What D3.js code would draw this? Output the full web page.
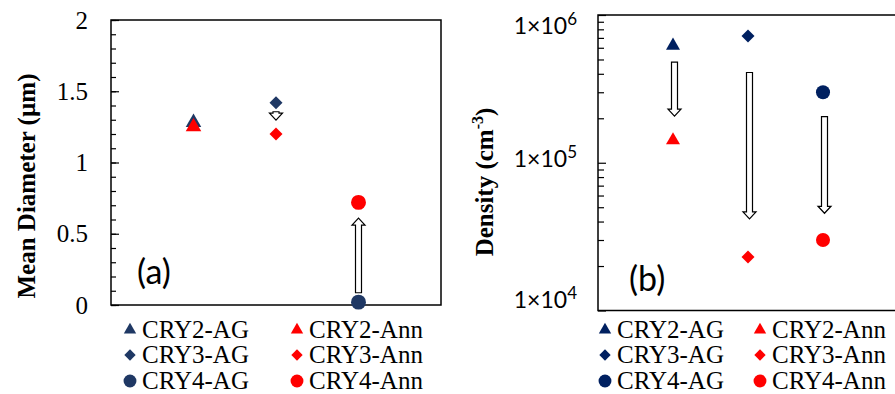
<!DOCTYPE html>
<html>
<head>
<meta charset="utf-8">
<script src="https://cdn.jsdelivr.net/npm/d3@7"></script>
<style>
  html, body { margin: 0; padding: 0; background: #fff; }
  svg { display: block; }
</style>
</head>
<body>
<svg id="chart" width="895" height="394"></svg>
<script>
// Samples and their as-grown (AG) / annealed (Ann) measurements
const categories = ["CRY2", "CRY3", "CRY4"];
const shapes = ["triangle", "diamond", "circle"];
const diameterAG = [1.28, 1.42, 0.02];
const diameterAnn = [1.25, 1.20, 0.72];
const densityAG = [6.2e5, 7.2e5, 3.0e5];
const densityAnn = [1.42e5, 2.3e4, 3.0e4];

// Axis ticks
const diameterTicks = [0, 0.5, 1, 1.5, 2];
const diameterMinor = d3.range(0, 2.0001, 0.1).map(v => +v.toFixed(1));
const densityTicks = [1e4, 1e5, 1e6];
const densityMinor = [2e4, 3e4, 4e4, 5e4, 6e4, 7e4, 8e4, 9e4, 2e5, 3e5, 4e5, 5e5, 6e5, 7e5, 8e5, 9e5];

// Change arrows (from -> to, in data units)
const diameterArrows = [
  { cat: "CRY3", from: 1.356, to: 1.298 },
  { cat: "CRY4", from: 0.086, to: 0.61 }
];
const densityArrows = [
  { cat: "CRY2", from: 4.8e5, to: 2.07e5 },
  { cat: "CRY3", from: 4.08e5, to: 4.17e4 },
  { cat: "CRY4", from: 2.05e5, to: 4.55e4 }
];

const RED = "#ff0000";
const serif = "'Liberation Serif', 'Times New Roman', serif";
const sans = "Lato, 'Open Sans', sans-serif";

const svg = d3.select("#chart");

function symbolPath(shape, size) {
  if (shape === "triangle") return d3.symbol(d3.symbolTriangle, size)();
  if (shape === "diamond") return d3.symbol(d3.symbolSquare, size)();
  return d3.symbol(d3.symbolCircle, size)();
}
function symbolTransform(shape, x, y) {
  return shape === "diamond" ? `translate(${x},${y}) rotate(45)` : `translate(${x},${y})`;
}

function blockArrow(x, y0, y1) {
  const dir = y1 > y0 ? 1 : -1;
  const sw = 3, hw = 6.5, hl = 7;
  const yb = y1 - dir * hl;
  return `M${x - sw},${y0} L${x + sw},${y0} L${x + sw},${yb} L${x + hw},${yb} L${x},${y1} L${x - hw},${yb} L${x - sw},${yb} Z`;
}

function drawMarkers(g, x, y, vals, color, sizes) {
  g.selectAll(null).data(vals).enter().append("path")
    .attr("d", (d, i) => symbolPath(shapes[i], sizes[shapes[i]]))
    .attr("transform", (d, i) => symbolTransform(shapes[i], x(categories[i]), y(d)))
    .attr("fill", color);
}

function drawLegend(g, x1, x2, color1, color2) {
  const rows = [330, 355, 381];
  const lsizes = { triangle: 66, diamond: 64, circle: 130 };
  categories.forEach((c, i) => {
    [[x1, color1, "-AG"], [x2, color2, "-Ann"]].forEach(([lx, col, suf]) => {
      g.append("path")
        .attr("d", symbolPath(shapes[i], lsizes[shapes[i]]))
        .attr("transform", symbolTransform(shapes[i], lx, rows[i]))
        .attr("fill", col);
      g.append("text")
        .attr("x", lx + 12).attr("y", rows[i] + 8)
        .attr("font-family", serif).attr("font-size", 25)
        .text(c + suf);
    });
  });
}

// ---------- Panel (a): mean diameter ----------
{
  const NAVY = "#1f3864";
  const L = 111, R = 441, T = 20, B = 305;
  const x = d3.scalePoint().domain(categories).range([L, R]).padding(1);
  const y = d3.scaleLinear().domain([0, 2]).range([B, T]);
  const g = svg.append("g");

  g.append("rect").attr("x", L).attr("y", T).attr("width", R - L).attr("height", B - T)
    .attr("fill", "none").attr("stroke", "#000").attr("stroke-width", 1.5);

  g.append("g").attr("transform", `translate(${L},0)`)
    .call(d3.axisLeft(y).tickValues(diameterMinor).tickSize(-5).tickFormat(""))
    .call(s => s.select(".domain").remove())
    .call(s => s.selectAll("line").attr("stroke-width", 1.2));

  g.append("g").attr("transform", `translate(${L},0)`)
    .call(d3.axisLeft(y).tickValues(diameterTicks).tickSize(-8).tickPadding(23).tickFormat(d3.format("")))
    .call(s => s.select(".domain").remove())
    .call(s => s.selectAll("line").attr("stroke-width", 1.2))
    .call(s => s.selectAll("text").attr("font-family", serif).attr("font-size", 25).attr("fill", "#000"));

  g.append("text")
    .attr("transform", `translate(35,186) rotate(-90)`)
    .attr("text-anchor", "middle")
    .attr("font-family", serif).attr("font-weight", "bold").attr("font-size", 25)
    .text("Mean Diameter (µm)");

  g.selectAll(null).data(diameterArrows).enter().append("path")
    .attr("d", d => blockArrow(x(d.cat), y(d.from), y(d.to)))
    .attr("fill", "#fff").attr("stroke", "#000").attr("stroke-width", 1.2);

  const sizes = { triangle: 105, diamond: 85, circle: 175 };
  drawMarkers(g, x, y, diameterAG, NAVY, sizes);
  drawMarkers(g, x, y, diameterAnn, RED, sizes);

  g.append("text").attr("x", 137).attr("y", 284)
    .attr("font-family", sans).attr("font-size", 34).text("(a)");

  drawLegend(g, 130, 297, NAVY, RED);
}

// ---------- Panel (b): density ----------
{
  const NAVY = "#002060";
  const L = 598, R = 898, T = 15, B = 310.5;
  const x = d3.scalePoint().domain(categories).range([L, R]).padding(1);
  const y = d3.scaleLog().domain([1e4, 1e6]).range([B, T]);
  const g = svg.append("g");

  g.append("rect").attr("x", L).attr("y", T).attr("width", R - L).attr("height", B - T)
    .attr("fill", "none").attr("stroke", "#000").attr("stroke-width", 1.5);

  g.append("g").attr("transform", `translate(${L},0)`)
    .call(d3.axisLeft(y).tickValues(densityMinor).tickSize(-6).tickFormat(""))
    .call(s => s.select(".domain").remove())
    .call(s => s.selectAll("line").attr("stroke-width", 1.2));

  g.append("g").attr("transform", `translate(${L},0)`)
    .call(d3.axisLeft(y).tickValues(densityTicks).tickSize(-8).tickFormat(""))
    .call(s => s.select(".domain").remove())
    .call(s => s.selectAll("line").attr("stroke-width", 1.2));

  // "1×10^n" labels, kept inside the plot's vertical extent
  densityTicks.forEach(v => {
    const ly = Math.max(26, Math.min(300, y(v) - 3.5));
    const t = g.append("text")
      .attr("x", L - 21).attr("y", ly + 8)
      .attr("text-anchor", "end")
      .attr("font-family", sans).attr("font-size", 23).attr("fill", "#000");
    t.append("tspan").text("1×10");
    t.append("tspan").attr("font-size", 17).attr("dy", -9).text(Math.round(Math.log10(v)));
  });

  const title = g.append("text")
    .attr("transform", `translate(493,182) rotate(-90)`)
    .attr("text-anchor", "middle")
    .attr("font-family", serif).attr("font-weight", "bold").attr("font-size", 25);
  title.append("tspan").text("Density (cm");
  title.append("tspan").attr("font-size", 16).attr("dy", -10).text("-3");
  title.append("tspan").attr("dy", 10).text(")");

  g.selectAll(null).data(densityArrows).enter().append("path")
    .attr("d", d => blockArrow(x(d.cat) + 1.5, y(d.from), y(d.to)))
    .attr("fill", "#fff").attr("stroke", "#000").attr("stroke-width", 1.2);

  const sizes = { triangle: 85, diamond: 85, circle: 155 };
  drawMarkers(g, x, y, densityAG, NAVY, sizes);
  drawMarkers(g, x, y, densityAnn, RED, sizes);

  g.append("text").attr("x", 629).attr("y", 291)
    .attr("font-family", sans).attr("font-size", 34).text("(b)");

  drawLegend(g, 605, 760, NAVY, RED);
}
</script>
</body>
</html>
